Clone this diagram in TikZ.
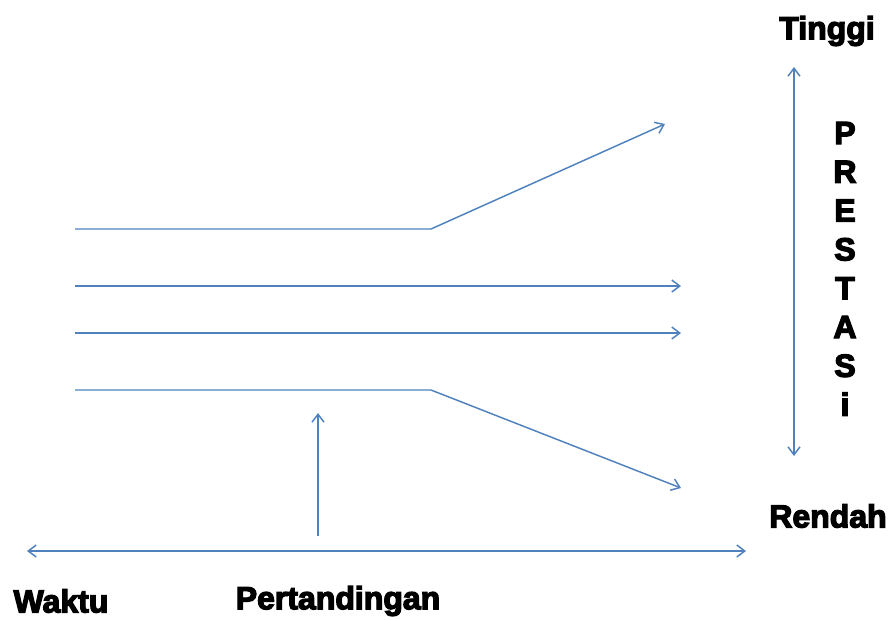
\documentclass[tikz,border=0pt]{standalone}
\usepackage{fontspec}
\newfontfamily\heavyfont{Liberation Sans Bold}[FakeBold=4]
\usetikzlibrary{arrows.meta}
\definecolor{lineblue}{HTML}{4F81BD}
\tikzset{
  barb/.tip={Straight Barb[length=6pt,width=9pt,line width=1.1pt]},
  flow/.style={draw=lineblue, line width=1.1pt, -barb},
  twoway/.style={draw=lineblue, line width=1.1pt, barb-barb},
  label/.style={font=\heavyfont\fontsize{24}{26}\selectfont, text=black, inner sep=0pt},
  letter/.style={font=\heavyfont\fontsize{24}{26}\selectfont, text=black, inner sep=0pt, anchor=base}
}
\begin{document}
\begin{tikzpicture}[x=0.75pt, y=-0.75pt]
\useasboundingbox (0,0) rectangle (890,619);
% start and bend points of the four performance paths
\coordinate (s1) at (75,229);  \coordinate (b1) at (431,229); \coordinate (e1) at (665,124);
\coordinate (s2) at (75,286);  \coordinate (e2) at (681,286);
\coordinate (s3) at (75,333);  \coordinate (e3) at (681,333);
\coordinate (s4) at (75,390);  \coordinate (b4) at (431,390); \coordinate (e4) at (681,488);
\draw[flow] (s1) -- (b1) -- (e1);
\draw[flow] (s2) -- (e2);
\draw[flow] (s3) -- (e3);
\draw[flow] (s4) -- (b4) -- (e4);
% competition marker
\coordinate (m0) at (318,536); \coordinate (m1) at (318,413);
\draw[flow] (m0) -- (m1);
% time axis
\coordinate (tL) at (27,551); \coordinate (tR) at (746,551);
\draw[twoway] (tL) -- (tR);
% performance axis
\coordinate (pT) at (794,67); \coordinate (pB) at (794,456);
\draw[twoway] (pT) -- (pB);
% labels
\node[label] (tinggi) at (827,31) {Tinggi};
\node[label] (rendah) at (828,516) {Rendah};
\node[label] (waktu) at (61,601) {Waktu};
\node[label] (tanding) at (338,601) {Pertandingan};
\foreach \ch [count=\i from 0] in {P,R,E,S,T,A,S,i}
  \node[letter] (p\i) at (845,144+38.8*\i) {\ch};
\end{tikzpicture}
\end{document}
